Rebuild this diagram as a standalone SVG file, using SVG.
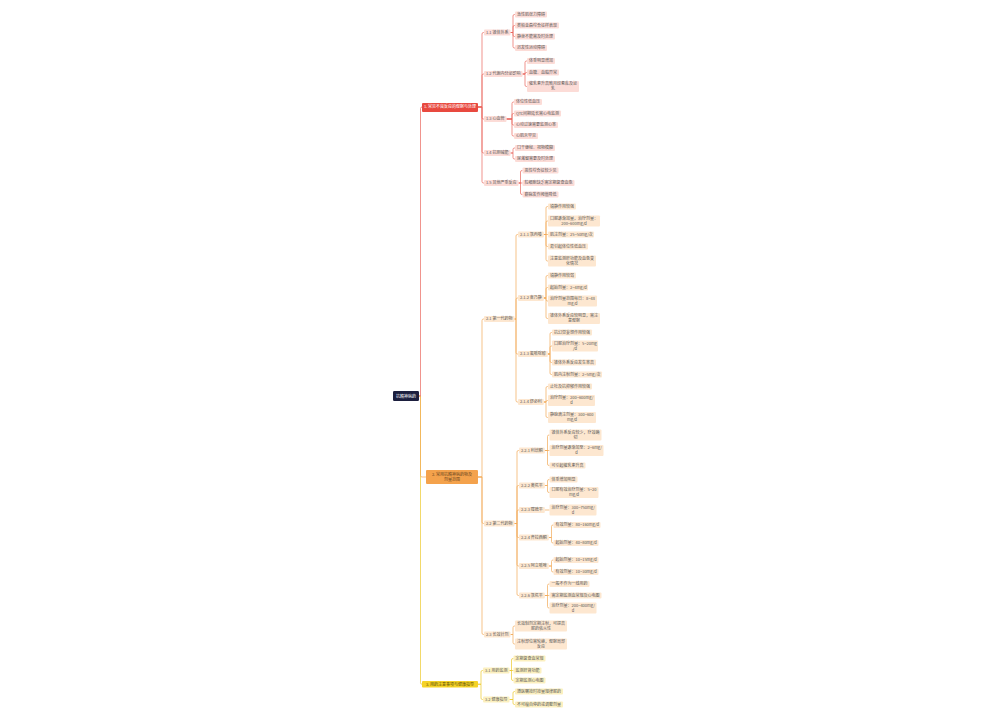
<svg xmlns="http://www.w3.org/2000/svg" width="1000" height="720" viewBox="0 0 1000 720">
<style>
.t{font-family:"Noto Sans CJK SC","Noto Sans",sans-serif;font-size:4px;fill:#5a5a5a}
.w{fill:#ffffff}
.b2t{fill:#6a4520}
.b3t{fill:#5a4a00}
.p1{fill:#fcdcd7}
.p2{fill:#fde7d0}
.p3{fill:#fcf0bf}
.c1{fill:none;stroke:#e9665c;stroke-width:0.7}
.c2{fill:none;stroke:#f2a956;stroke-width:0.7}
.c3{fill:none;stroke:#ecc82a;stroke-width:0.7}
</style>
<rect width="1000" height="720" fill="#ffffff"/>
<g id="connectors">
<path class="c3" d="M419,396H420.5V682.75Q420.5,684.25 422,684.25"/>
<path class="c2" d="M419,396H420.5V475.5Q420.5,477 422,477H426"/>
<path class="c1" d="M419,396H420.5V108.5Q420.5,107 422,107"/>
<g class="c1">
<path d="M478,107H482V34Q482,32.5 483.5,32.5H484"/>
<path d="M478,107H482V75.5Q482,74 483.5,74H484"/>
<path d="M478,107H482V117.5Q482,119 483.5,119H484"/>
<path d="M478,107H482V151.5Q482,153 483.5,153H484"/>
<path d="M478,107H482V181.5Q482,183 483.5,183H484"/>
<path d="M510.5,32.5H513V16Q513,14.5 514.5,14.5H515"/>
<path d="M510.5,32.5H513V27Q513,25.5 514.5,25.5H515"/>
<path d="M510.5,32.5H513V35Q513,36.5 514.5,36.5H515"/>
<path d="M510.5,32.5H513V46.5Q513,48 514.5,48H515"/>
<path d="M522.5,74H525V62.5Q525,61 526.5,61H527"/>
<path d="M522.5,74H525Q525,72.5 526.5,72.5H527"/>
<path d="M522.5,74H525V85Q525,86.5 526.5,86.5H527"/>
<path d="M506.5,119H512V103.5Q512,102 513.5,102H514"/>
<path d="M506.5,119H512V115Q512,113.5 513.5,113.5H514"/>
<path d="M506.5,119H512V123.5Q512,125 513.5,125H514"/>
<path d="M506.5,119H512V134.5Q512,136 513.5,136H514"/>
<path d="M510.5,153H513V149.5Q513,148 514.5,148H515"/>
<path d="M510.5,153H513V157.5Q513,159 514.5,159H515"/>
<path d="M518.5,183H520.5V172Q520.5,170.5 522,170.5H522.5"/>
<path d="M518.5,183H522.5"/>
<path d="M518.5,183H520.5V193Q520.5,194.5 522,194.5H522.5"/>
</g>
<g class="c2">
<path d="M478,477H482V320.5Q482,319 483.5,319H484"/>
<path d="M478,477H482V522Q482,523.5 483.5,523.5H484"/>
<path d="M478,477H482V633Q482,634.5 483.5,634.5H484"/>
<path d="M514.5,319H516V236Q516,234.5 517.5,234.5H518"/>
<path d="M514.5,319H516V299.5Q516,298 517.5,298H518"/>
<path d="M514.5,319H516V352.5Q516,354 517.5,354H518"/>
<path d="M514.5,319H516V400.5Q516,402 517.5,402H518"/>
<path d="M543.8,234.5H546V208Q546,206.5 547.5,206.5H548"/>
<path d="M543.8,234.5H546V222.5Q546,221 547.5,221H548"/>
<path d="M543.8,234.5H548"/>
<path d="M543.8,234.5H546V245Q546,246.5 547.5,246.5H548"/>
<path d="M543.8,234.5H546V259.5Q546,261 547.5,261H548"/>
<path d="M543.8,298H546V277Q546,275.5 547.5,275.5H548"/>
<path d="M543.8,298H546V289Q546,287.5 547.5,287.5H548"/>
<path d="M543.8,298H546V299.5Q546,301 547.5,301H548"/>
<path d="M543.8,298H546V317Q546,318.5 547.5,318.5H548"/>
<path d="M547.8,354H550V334Q550,332.5 551.5,332.5H552"/>
<path d="M547.8,354H550V347.5Q550,346 551.5,346H552"/>
<path d="M547.8,354H550V361Q550,362.5 551.5,362.5H552"/>
<path d="M547.8,354H550V373Q550,374.5 551.5,374.5H552"/>
<path d="M543.8,402H546V388Q546,386.5 547.5,386.5H548"/>
<path d="M543.8,402H546Q546,400.5 547.5,400.5H548"/>
<path d="M543.8,402H546V416Q546,417.5 547.5,417.5H548"/>
<path d="M514.5,523.5H517V452Q517,450.5 518.5,450.5H519"/>
<path d="M514.5,523.5H517V487Q517,485.5 518.5,485.5H519"/>
<path d="M514.5,523.5H517V511.5Q517,510 518.5,510H519"/>
<path d="M514.5,523.5H517V536Q517,537.5 518.5,537.5H519"/>
<path d="M514.5,523.5H517V564.5Q517,566 518.5,566H519"/>
<path d="M514.5,523.5H517V594Q517,595.5 518.5,595.5H519"/>
<path d="M544.8,450.5H547.5V436.5Q547.5,435 549,435H549.5"/>
<path d="M544.8,450.5H549.5"/>
<path d="M544.8,450.5H547.5V464Q547.5,465.5 549,465.5H549.5"/>
<path d="M544.8,485.5H547.5V481Q547.5,479.5 549,479.5H549.5"/>
<path d="M544.8,485.5H547.5V491Q547.5,492.5 549,492.5H549.5"/>
<path d="M544.8,510H549.5"/>
<path d="M548.8,537.5H551.5V526.5Q551.5,525 553,525H553.5"/>
<path d="M548.8,537.5H551.5V541.5Q551.5,543 553,543H553.5"/>
<path d="M548.8,566H551.5V561.5Q551.5,560 553,560H553.5"/>
<path d="M548.8,566H551.5V570.5Q551.5,572 553,572H553.5"/>
<path d="M544.8,595.5H547.5V585.5Q547.5,584 549,584H549.5"/>
<path d="M544.8,595.5H549.5"/>
<path d="M544.8,595.5H547.5V606.5Q547.5,608 549,608H549.5"/>
<path d="M510.5,634.5H513V627.5Q513,626 514.5,626H515"/>
<path d="M510.5,634.5H513V642.5Q513,644 514.5,644H515"/>
</g>
<g class="c3">
<path d="M478,684.25H481V672Q481,670.5 482.5,670.5H483"/>
<path d="M478,684.25H481V698Q481,699.5 482.5,699.5H483"/>
<path d="M509.5,670.5H511.5V660Q511.5,658.5 513,658.5H513.5"/>
<path d="M509.5,670.5H513.5"/>
<path d="M509.5,670.5H511.5V679Q511.5,680.5 513,680.5H513.5"/>
<path d="M509.5,699.5H513V693Q513,691.5 514.5,691.5H515"/>
<path d="M509.5,699.5H513V703Q513,704.5 514.5,704.5H515"/>
</g>
</g>

<g id="root"><rect x="393" y="391" width="26" height="10" rx="1.2" fill="#1c1f3e"/><text class="t w" x="406" y="397.5" text-anchor="middle" font-size="4.4">抗精神病药</text></g>

<g id="b1"><rect x="422" y="103" width="56" height="9" rx="1" fill="#e8493f"/><text class="t w" x="450" y="108.4" text-anchor="middle">1. 常见不良反应的观察与处理</text></g>
<g id="b2"><rect x="426" y="470" width="52" height="14" rx="1" fill="#f4a24c"/><text class="t b2t" x="452" y="475.9" text-anchor="middle">2. 常用抗精神病药物及</text><text class="t b2t" x="452" y="481.4" text-anchor="middle">剂量范围</text></g>
<g id="b3"><rect x="422" y="681" width="56" height="6.5" rx="1" fill="#f5d327"/><text class="t b3t" x="450" y="685.6" text-anchor="middle">3. 用药注意事项与健康指导</text></g>

<g id="n11"><rect class="p1" x="484" y="29.5" width="26.5" height="6" rx="1"/><text class="t" x="486" y="33.9">1.1 锥体外系</text></g>
<g id="n11a"><rect class="p1" x="515" y="11.5" width="32" height="6" rx="1"/><text class="t" x="517" y="15.9">急性肌张力障碍</text></g>
<g id="n11b"><rect class="p1" x="515" y="22.5" width="44" height="6" rx="1"/><text class="t" x="517" y="26.9">类帕金森综合征样表现</text></g>
<g id="n11c"><rect class="p1" x="515" y="33.5" width="40" height="6" rx="1"/><text class="t" x="517" y="37.9">静坐不能需及时处理</text></g>
<g id="n11d"><rect class="p1" x="515" y="45" width="32" height="6" rx="1"/><text class="t" x="517" y="49.4">迟发性运动障碍</text></g>

<g id="n12"><rect class="p1" x="484" y="71" width="38.5" height="6" rx="1"/><text class="t" x="486" y="75.4">1.2 代谢内分泌影响</text></g>
<g id="n12a"><rect class="p1" x="527" y="58" width="28" height="6" rx="1"/><text class="t" x="529" y="62.4">体重明显增加</text></g>
<g id="n12b"><rect class="p1" x="527" y="69.5" width="32" height="6" rx="1"/><text class="t" x="529" y="73.9">血糖、血脂异常</text></g>
<g id="n12c"><rect class="p1" x="527" y="81" width="52" height="11" rx="1"/><text class="t" x="529" y="85.4">催乳素升高致月经紊乱及泌</text><text class="t" x="553" y="90.4" text-anchor="middle">乳</text></g>

<g id="n13"><rect class="p1" x="484" y="116" width="22.5" height="6" rx="1"/><text class="t" x="486" y="120.4">1.3 心血管</text></g>
<g id="n13a"><rect class="p1" x="514" y="99" width="28" height="6" rx="1"/><text class="t" x="516" y="103.4">体位性低血压</text></g>
<g id="n13b"><rect class="p1" x="514" y="110.5" width="47" height="6" rx="1"/><text class="t" x="516" y="114.9">QTc间期延长需心电监测</text></g>
<g id="n13c"><rect class="p1" x="514" y="122" width="44" height="6" rx="1"/><text class="t" x="516" y="126.4">心动过速需要监测心率</text></g>
<g id="n13d"><rect class="p1" x="514" y="133" width="24" height="6" rx="1"/><text class="t" x="516" y="137.4">心肌炎罕见</text></g>

<g id="n14"><rect class="p1" x="484" y="150" width="26.5" height="6" rx="1"/><text class="t" x="486" y="154.4">1.4 抗胆碱能</text></g>
<g id="n14a"><rect class="p1" x="515" y="145" width="40" height="6" rx="1"/><text class="t" x="517" y="149.4">口干便秘、视物模糊</text></g>
<g id="n14b"><rect class="p1" x="515" y="156" width="40" height="6" rx="1"/><text class="t" x="517" y="160.4">尿潴留需要及时处理</text></g>

<g id="n15"><rect class="p1" x="484" y="180" width="34.5" height="6" rx="1"/><text class="t" x="486" y="184.4">1.5 其他严重反应</text></g>
<g id="n15a"><rect class="p1" x="522.5" y="167.5" width="36" height="6" rx="1"/><text class="t" x="524.5" y="171.9">恶性综合征较少见</text></g>
<g id="n15b"><rect class="p1" x="522.5" y="180" width="52" height="6" rx="1"/><text class="t" x="524.5" y="184.4">粒细胞缺乏需定期复查血象</text></g>
<g id="n15c"><rect class="p1" x="522.5" y="191.5" width="36" height="6" rx="1"/><text class="t" x="524.5" y="195.9">癫痫发作阈值降低</text></g>

<g id="n21"><rect class="p2" x="484" y="316" width="30.5" height="6" rx="1"/><text class="t" x="486" y="320.4">2.1 第一代药物</text></g>
<g id="n211"><rect class="p2" x="518" y="231.5" width="25.8" height="6" rx="1"/><text class="t" x="520" y="235.9">2.1.1 氯丙嗪</text></g>
<g id="n211a"><rect class="p2" x="548" y="203.5" width="28" height="6" rx="1"/><text class="t" x="550" y="207.9">镇静作用较强</text></g>
<g id="n211b"><rect class="p2" x="548" y="215.5" width="52" height="11" rx="1"/><text class="t" x="550" y="219.9">口服逐渐加量，治疗剂量：</text><text class="t" x="574" y="224.9" text-anchor="middle">200~600mg/d</text></g>
<g id="n211c"><rect class="p2" x="548" y="231.5" width="46" height="6" rx="1"/><text class="t" x="550" y="235.9">肌注剂量：25~50mg/次</text></g>
<g id="n211d"><rect class="p2" x="548" y="243.5" width="40" height="6" rx="1"/><text class="t" x="550" y="247.9">易引起体位性低血压</text></g>
<g id="n211e"><rect class="p2" x="548" y="255.5" width="48" height="11" rx="1"/><text class="t" x="550" y="259.9">注意监测肝功能及血象变</text><text class="t" x="572" y="264.9" text-anchor="middle">化情况</text></g>

<g id="n212"><rect class="p2" x="518" y="295" width="25.8" height="6" rx="1"/><text class="t" x="520" y="299.4">2.1.2 奋乃静</text></g>
<g id="n212a"><rect class="p2" x="548" y="272.5" width="28" height="6" rx="1"/><text class="t" x="550" y="276.9">镇静作用较弱</text></g>
<g id="n212b"><rect class="p2" x="548" y="284.5" width="40" height="6" rx="1"/><text class="t" x="550" y="288.9">起始剂量：2~4mg/d</text></g>
<g id="n212c"><rect class="p2" x="548" y="295.5" width="49" height="11" rx="1"/><text class="t" x="550" y="299.9">治疗剂量范围每日：8~48</text><text class="t" x="572.5" y="304.9" text-anchor="middle">mg/d</text></g>
<g id="n212d"><rect class="p2" x="548" y="313" width="52" height="11" rx="1"/><text class="t" x="550" y="317.4">锥体外系反应较明显，需注</text><text class="t" x="574" y="322.4" text-anchor="middle">意观察</text></g>

<g id="n213"><rect class="p2" x="518" y="351" width="29.8" height="6" rx="1"/><text class="t" x="520" y="355.4">2.1.3 氟哌啶醇</text></g>
<g id="n213a"><rect class="p2" x="552" y="329.5" width="40" height="6" rx="1"/><text class="t" x="554" y="333.9">抗幻觉妄想作用较强</text></g>
<g id="n213b"><rect class="p2" x="552" y="340.5" width="46" height="11" rx="1"/><text class="t" x="554" y="344.9">口服治疗剂量：5~20mg</text><text class="t" x="575" y="349.9" text-anchor="middle">/d</text></g>
<g id="n213c"><rect class="p2" x="552" y="359.5" width="44" height="6" rx="1"/><text class="t" x="554" y="363.9">锥体外系反应发生率高</text></g>
<g id="n213d"><rect class="p2" x="552" y="371.5" width="50" height="6" rx="1"/><text class="t" x="554" y="375.9">肌内注射剂量：2~5mg/次</text></g>

<g id="n214"><rect class="p2" x="518" y="399" width="25.8" height="6" rx="1"/><text class="t" x="520" y="403.4">2.1.4 舒必利</text></g>
<g id="n214a"><rect class="p2" x="548" y="383.5" width="44" height="6" rx="1"/><text class="t" x="550" y="387.9">止吐及抗抑郁作用较强</text></g>
<g id="n214b"><rect class="p2" x="548" y="395" width="47" height="11" rx="1"/><text class="t" x="550" y="399.4">治疗剂量：200~600mg/</text><text class="t" x="571.5" y="404.4" text-anchor="middle">d</text></g>
<g id="n214c"><rect class="p2" x="548" y="412" width="48" height="11" rx="1"/><text class="t" x="550" y="416.4">静脉滴注剂量：300~600</text><text class="t" x="572" y="421.4" text-anchor="middle">mg/d</text></g>

<g id="n22"><rect class="p2" x="484" y="520.5" width="30.5" height="6" rx="1"/><text class="t" x="486" y="524.9">2.2 第二代药物</text></g>
<g id="n221"><rect class="p2" x="519" y="447.5" width="25.8" height="6" rx="1"/><text class="t" x="521" y="451.9">2.2.1 利培酮</text></g>
<g id="n221a"><rect class="p2" x="549.5" y="429.5" width="52" height="11" rx="1"/><text class="t" x="551.5" y="433.9">锥体外系反应较少，疗效确</text><text class="t" x="575.5" y="438.9" text-anchor="middle">切</text></g>
<g id="n221b"><rect class="p2" x="549.5" y="445" width="54" height="11" rx="1"/><text class="t" x="551.5" y="449.4">治疗剂量逐渐加至：2~6mg/</text><text class="t" x="576.5" y="454.4" text-anchor="middle">d</text></g>
<g id="n221c"><rect class="p2" x="549.5" y="462.5" width="36" height="6" rx="1"/><text class="t" x="551.5" y="466.9">可引起催乳素升高</text></g>

<g id="n222"><rect class="p2" x="519" y="482.5" width="25.8" height="6" rx="1"/><text class="t" x="521" y="486.9">2.2.2 奥氮平</text></g>
<g id="n222a"><rect class="p2" x="549.5" y="476.5" width="28" height="6" rx="1"/><text class="t" x="551.5" y="480.9">体重增加明显</text></g>
<g id="n222b"><rect class="p2" x="549.5" y="487" width="49" height="11" rx="1"/><text class="t" x="551.5" y="491.4">口服有效治疗剂量：5~20</text><text class="t" x="574" y="496.4" text-anchor="middle">mg/d</text></g>

<g id="n223"><rect class="p2" x="519" y="507" width="25.8" height="6" rx="1"/><text class="t" x="521" y="511.4">2.2.3 喹硫平</text></g>
<g id="n223a"><rect class="p2" x="549.5" y="504.5" width="47" height="11" rx="1"/><text class="t" x="551.5" y="508.9">治疗剂量：300~750mg/</text><text class="t" x="573" y="513.9" text-anchor="middle">d</text></g>

<g id="n224"><rect class="p2" x="519" y="534.5" width="29.8" height="6" rx="1"/><text class="t" x="521" y="538.9">2.2.4 齐拉西酮</text></g>
<g id="n224a"><rect class="p2" x="553.5" y="522" width="47" height="6" rx="1"/><text class="t" x="555.5" y="526.4">有效剂量：80~160mg/d</text></g>
<g id="n224b"><rect class="p2" x="553.5" y="540" width="45" height="6" rx="1"/><text class="t" x="555.5" y="544.4">起始剂量：40~80mg/d</text></g>

<g id="n225"><rect class="p2" x="519" y="563" width="29.8" height="6" rx="1"/><text class="t" x="521" y="567.4">2.2.5 阿立哌唑</text></g>
<g id="n225a"><rect class="p2" x="553.5" y="557" width="45" height="6" rx="1"/><text class="t" x="555.5" y="561.4">起始剂量：10~15mg/d</text></g>
<g id="n225b"><rect class="p2" x="553.5" y="569" width="45" height="6" rx="1"/><text class="t" x="555.5" y="573.4">有效剂量：10~30mg/d</text></g>

<g id="n226"><rect class="p2" x="519" y="592.5" width="25.8" height="6" rx="1"/><text class="t" x="521" y="596.9">2.2.6 氯氮平</text></g>
<g id="n226a"><rect class="p2" x="549.5" y="581" width="40" height="6" rx="1"/><text class="t" x="551.5" y="585.4">一般不作为一线用药</text></g>
<g id="n226b"><rect class="p2" x="549.5" y="592.5" width="52" height="6" rx="1"/><text class="t" x="551.5" y="596.9">需定期监测血常规及心电图</text></g>
<g id="n226c"><rect class="p2" x="549.5" y="602.5" width="47" height="11" rx="1"/><text class="t" x="551.5" y="606.9">治疗剂量：200~400mg/</text><text class="t" x="573" y="611.9" text-anchor="middle">d</text></g>

<g id="n23"><rect class="p2" x="484" y="631.5" width="26.5" height="6" rx="1"/><text class="t" x="486" y="635.9">2.3 长效针剂</text></g>
<g id="n23a"><rect class="p2" x="515" y="620.5" width="52" height="11" rx="1"/><text class="t" x="517" y="624.9">长效制剂定期注射，可提高</text><text class="t" x="541" y="629.9" text-anchor="middle">服药依从性</text></g>
<g id="n23b"><rect class="p2" x="515" y="638.5" width="52" height="11" rx="1"/><text class="t" x="517" y="642.9">注射部位需轮换，观察局部</text><text class="t" x="541" y="647.9" text-anchor="middle">反应</text></g>

<g id="n31"><rect class="p3" x="483" y="667.5" width="26.5" height="6" rx="1"/><text class="t" x="485" y="671.9">3.1 用药监测</text></g>
<g id="n31a"><rect class="p3" x="513.5" y="655.5" width="32" height="6" rx="1"/><text class="t" x="515.5" y="659.9">定期复查血常规</text></g>
<g id="n31b"><rect class="p3" x="513.5" y="667.5" width="28" height="6" rx="1"/><text class="t" x="515.5" y="671.9">监测肝肾功能</text></g>
<g id="n31c"><rect class="p3" x="513.5" y="677.5" width="32" height="6" rx="1"/><text class="t" x="515.5" y="681.9">定期监测心电图</text></g>

<g id="n32"><rect class="p3" x="483" y="696.5" width="26.5" height="6" rx="1"/><text class="t" x="485" y="700.9">3.2 健康指导</text></g>
<g id="n32a"><rect class="p3" x="515" y="688.5" width="48" height="6" rx="1"/><text class="t" x="517" y="692.9">遵医嘱按时按量规律服药</text></g>
<g id="n32b"><rect class="p3" x="515" y="701.5" width="48" height="6" rx="1"/><text class="t" x="517" y="705.9">不可擅自停药或调整剂量</text></g>
</svg>
